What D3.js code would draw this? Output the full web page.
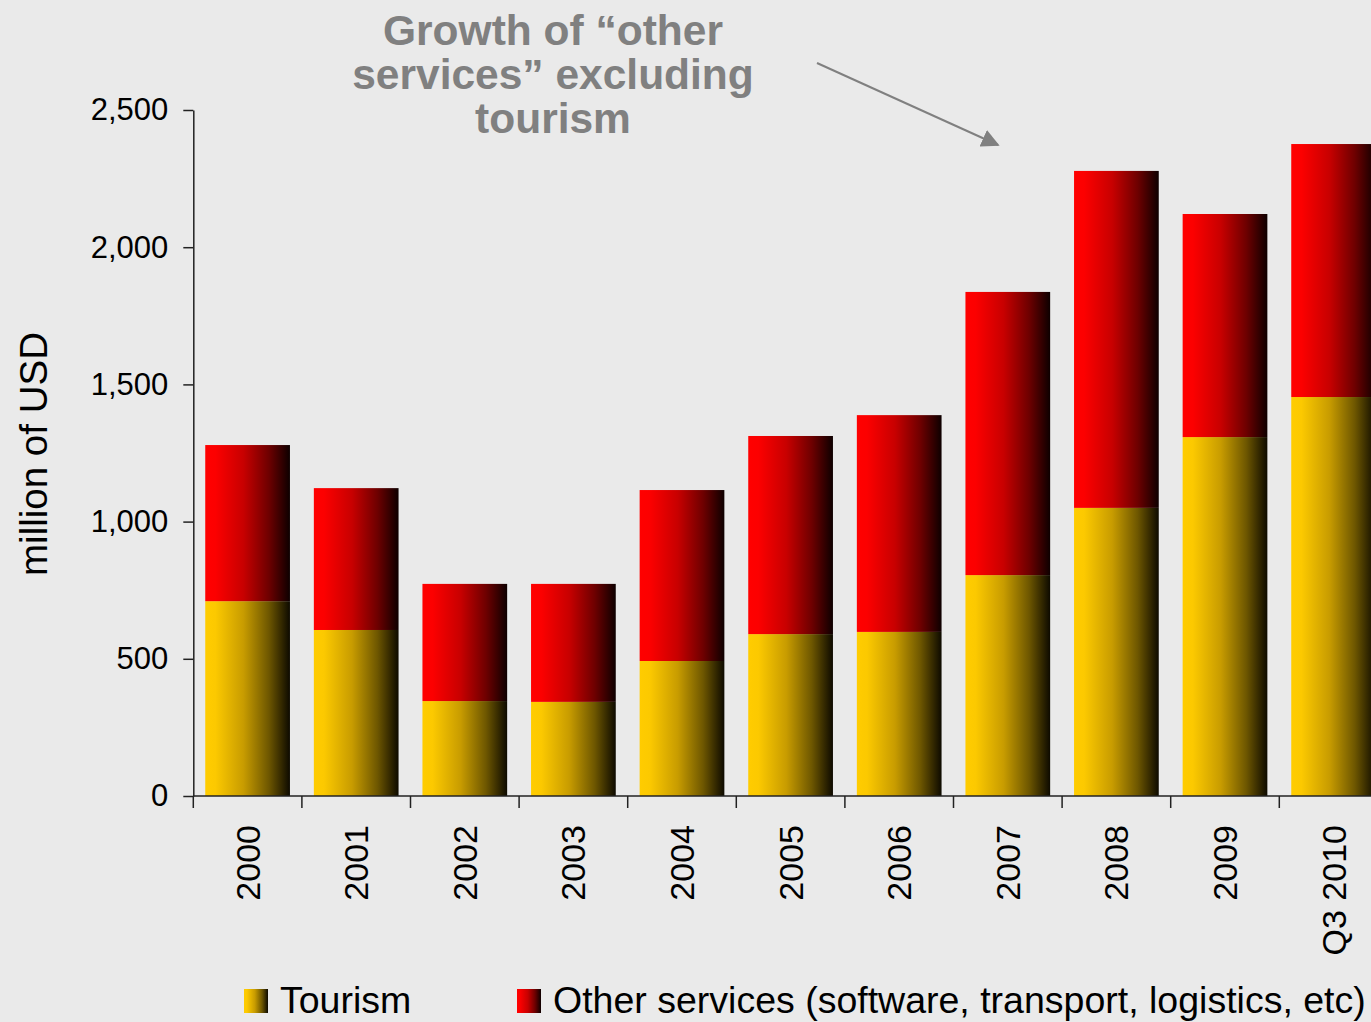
<!DOCTYPE html>
<html>
<head>
<meta charset="utf-8">
<script src="https://cdn.jsdelivr.net/npm/d3@7"></script>
<style>
  html, body { margin: 0; padding: 0; background: #eaeaea; }
  svg { display: block; }
  text { font-family: "Liberation Sans", Arial, sans-serif; }
</style>
</head>
<body>
<svg id="chart" width="1371" height="1022"></svg>
<script>
// Services exports, million of USD
const categories = ["2000", "2001", "2002", "2003", "2004", "2005", "2006", "2007", "2008", "2009", "Q3 2010"];
const tourism = [710, 605, 346, 343, 492, 590, 598, 805, 1050, 1308, 1454];
const otherServices = [569, 517, 427, 430, 623, 722, 790, 1032, 1228, 813, 922];
const yTicks = [0, 500, 1000, 1500, 2000, 2500];
const seriesNames = ["Tourism", "Other services (software, transport, logistics, etc)"];
const noteLines = ["Growth of \u201Cother", "services\u201D excluding", "tourism"];

const svg = d3.select("#chart");
const W = 1371, H = 1022;

svg.append("rect").attr("width", W).attr("height", H).attr("fill", "#eaeaea");

// horizontal shading gradients for the two series
const defs = svg.append("defs");
function shade(id, stops) {
  const g = defs.append("linearGradient").attr("id", id)
    .attr("x1", 0).attr("y1", 0).attr("x2", 1).attr("y2", 0);
  stops.forEach(([o, c]) => g.append("stop").attr("offset", o).attr("stop-color", c));
}
shade("gTourism", [[0, "#ffcc00"], [0.12, "#fcc900"], [0.45, "#c89c00"], [0.75, "#6e5700"], [1, "#0d0a00"]]);
shade("gOther", [[0, "#ff0000"], [0.12, "#fc0000"], [0.45, "#c80000"], [0.75, "#6e0000"], [1, "#0d0000"]]);

const x0 = 193.3, step = 108.6;
const x = d3.scaleBand()
  .domain(categories)
  .range([x0, x0 + step * categories.length])
  .paddingInner(0.22)
  .paddingOuter(0.11);

const y = d3.scaleLinear().domain([0, 2500]).range([796, 110]);

// stacked bars
const rows = categories.map((c, i) => ({ cat: c, tourism: tourism[i], other: otherServices[i] }));
const stack = d3.stack().keys(["tourism", "other"])(rows);
const fills = { tourism: "url(#gTourism)", other: "url(#gOther)" };

stack.forEach(layer => {
  svg.append("g").selectAll("rect")
    .data(layer)
    .join("rect")
    .attr("x", d => x(d.data.cat))
    .attr("width", x.bandwidth())
    .attr("y", d => y(d[1]))
    .attr("height", d => y(d[0]) - y(d[1]))
    .attr("fill", fills[layer.key]);
});

// y axis
const yAxis = svg.append("g")
  .attr("transform", `translate(${x0},0)`)
  .call(d3.axisLeft(y).tickValues(yTicks).tickFormat(d3.format(",")).tickSize(10).tickPadding(15).tickSizeOuter(0));
yAxis.select(".domain").attr("stroke", "#222").attr("stroke-width", 1.5);
yAxis.selectAll(".tick line").attr("stroke", "#222").attr("stroke-width", 1.5);
yAxis.selectAll(".tick text").attr("font-size", 31).attr("fill", "#000")
  .attr("font-family", "Liberation Sans, Arial, sans-serif");

// x axis baseline and category separators
const xAxis = svg.append("g");
xAxis.append("line")
  .attr("x1", x0).attr("x2", W)
  .attr("y1", y(0)).attr("y2", y(0))
  .attr("stroke", "#222").attr("stroke-width", 1.5);
const gap = (x.step() - x.bandwidth()) / 2;
xAxis.selectAll("line.sep")
  .data(categories)
  .join("line")
  .attr("class", "sep")
  .attr("x1", d => x(d) - gap).attr("x2", d => x(d) - gap)
  .attr("y1", y(0)).attr("y2", y(0) + 12)
  .attr("stroke", "#222").attr("stroke-width", 1.5);
xAxis.selectAll("text")
  .data(categories)
  .join("text")
  .attr("transform", d => `translate(${x(d) + x.bandwidth() / 2 + 12},825) rotate(-90)`)
  .attr("text-anchor", "end")
  .attr("font-size", 34)
  .attr("fill", "#000")
  .text(d => d);

// y axis title
svg.append("text")
  .attr("transform", "translate(47,454) rotate(-90)")
  .attr("text-anchor", "middle")
  .attr("font-size", 38.5)
  .attr("fill", "#000")
  .text("million of USD");

// annotation
const note = svg.append("text")
  .attr("text-anchor", "middle")
  .attr("font-size", 42.5)
  .attr("font-weight", "bold")
  .attr("fill", "#808080");
noteLines.forEach((t, i) => note.append("tspan").attr("x", 553).attr("y", 45 + i * 44).text(t));

defs.append("marker").attr("id", "arrowHead")
  .attr("viewBox", "0 0 10 10").attr("refX", 9).attr("refY", 5)
  .attr("markerWidth", 18).attr("markerHeight", 18).attr("markerUnits", "userSpaceOnUse")
  .attr("orient", "auto")
  .append("path").attr("d", "M0,0 L10,5 L0,10 Z").attr("fill", "#808080");
svg.append("line")
  .attr("x1", 817).attr("y1", 63).attr("x2", 998).attr("y2", 145)
  .attr("stroke", "#808080").attr("stroke-width", 2)
  .attr("marker-end", "url(#arrowHead)");

// legend
const legend = svg.append("g");
const legendItems = [
  { name: seriesNames[0], fill: "url(#gTourism)", x: 244 },
  { name: seriesNames[1], fill: "url(#gOther)", x: 517 }
];
legendItems.forEach(it => {
  legend.append("rect").attr("x", it.x).attr("y", 989).attr("width", 24).attr("height", 24).attr("fill", it.fill);
  legend.append("text").attr("x", it.x + 36).attr("y", 1013)
    .attr("font-size", 37.5).attr("fill", "#000").text(it.name);
});
</script>
</body>
</html>
